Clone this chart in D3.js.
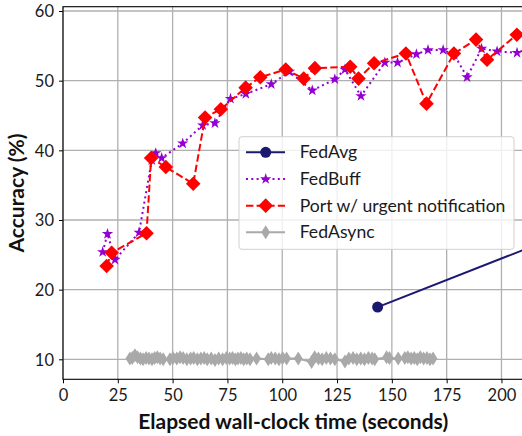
<!DOCTYPE html>
<html>
<head>
<meta charset="utf-8">
<script src="https://cdn.jsdelivr.net/npm/d3@7"></script>
<style>
  body { margin: 0; background: #fff; }
  svg { display: block; font-family: Lato, "Noto Sans", sans-serif; }
</style>
</head>
<body>
<svg id="chart" width="522" height="436"></svg>
<script>
// series values (time in seconds, accuracy in %)
const fedAvgTime = [143.5, 287];
const fedAvgAcc = [17.5, 35.2];

const fedBuffTime = [18.1, 20.3, 23.7, 34.7, 40.5, 42.3, 45.0, 54.6, 63.7, 69.3, 76.4, 83.4, 95.0, 103.3,
  113.7, 124.0, 128.6, 135.9, 146.8, 152.6, 161.2, 166.5, 173.4, 178.5, 184.3, 190.9, 198.0, 207.1, 216.0];
const fedBuffAcc = [25.4, 28.0, 24.3, 28.2, 38.6, 39.6, 38.9, 41.0, 43.6, 43.9, 47.4, 48.1, 49.5, 51.3,
  48.6, 50.2, 51.6, 47.8, 52.6, 52.6, 53.8, 54.4, 54.4, 53.7, 50.5, 54.6, 54.2, 54.0, 55.0];

const portTime = [19.9, 22.2, 38.1, 40.2, 46.9, 59.4, 64.8, 72.0, 83.3, 90.0, 101.6, 109.8, 114.9, 131.0,
  134.8, 141.9, 156.4, 165.8, 178.3, 188.4, 193.4, 207.0, 216.0];
const portAcc = [23.4, 25.3, 28.1, 38.9, 37.6, 35.2, 44.7, 45.9, 49.0, 50.5, 51.6, 50.3, 51.8, 52.0,
  50.3, 52.5, 53.9, 46.7, 53.9, 55.9, 53.0, 56.6, 57.2];

const fedAsyncTime = [30.5, 31.6, 32.8, 34.0, 35.3, 36.5, 37.9, 39.2, 40.6, 41.8, 43.0, 44.3, 45.7,
  48.8, 50.2, 51.9, 53.4, 54.8, 56.5, 58.2, 59.6, 61.3, 62.9, 64.4, 65.8, 67.6, 69.3, 71.0, 72.8,
  74.5, 76.0, 77.3, 78.6, 79.8, 81.1, 82.4, 83.8, 85.3, 88.3, 93.6, 95.0, 96.8, 98.5, 100.2, 102.0,
  107.3, 113.4, 114.8, 116.5, 118.2, 120.1, 122.0, 124.0, 128.6, 130.4, 132.3, 134.0, 135.8, 137.5,
  139.3, 141.0, 142.2, 147.6, 148.9, 152.9, 155.9, 157.3, 158.8, 160.2, 161.6, 163.0, 164.5, 166.0,
  167.4, 168.8];
const fedAsyncAcc = [10.1, 10.2, 10.6, 10.3, 10.1, 10.0, 10.2, 10.1, 10.0, 10.2, 10.3, 10.1, 10.0,
  10.0, 10.2, 10.1, 10.3, 10.2, 10.0, 10.1, 10.2, 10.0, 10.1, 10.2, 10.0, 10.1, 9.9, 10.1, 10.0,
  10.2, 10.1, 10.2, 10.0, 10.1, 10.2, 10.0, 10.1, 10.0, 10.1, 10.0, 10.2, 10.1, 10.0, 10.2, 10.1,
  10.1, 9.6, 10.3, 10.1, 10.0, 10.2, 10.1, 10.0, 9.7, 10.1, 10.2, 10.0, 10.1, 10.0,
  10.2, 10.1, 10.0, 10.3, 10.2, 10.1, 10.2, 10.3, 10.1, 10.2, 10.0, 10.3, 10.1, 10.2,
  10.0, 10.1];

const xTicks = [0, 25, 50, 75, 100, 125, 150, 175, 200];
const yTicks = [10, 20, 30, 40, 50, 60];
const seriesNames = ['FedAvg', 'FedBuff', 'Port w/ urgent notification', 'FedAsync'];

const svg = d3.select('#chart');

const x = d3.scaleLinear().domain([0, 210]).range([63, 523.4]);
const y = d3.scaleLinear().domain([7.13, 60.62]).range([379.3, 6.7]);

const zip = (xs, ys) => xs.map((t, i) => [t, ys[i]]);

const diamond = 'M0,-7.3L7.3,0L0,7.3L-7.3,0Z';
const thinDiamond = 'M0,-7L4.4,0L0,7L-4.4,0Z';
const star = d3.symbol().type(d3.symbolStar).size(40)();
const circle = d3.symbol().type(d3.symbolCircle).size(95)();

const series = [
  { name: seriesNames[0], data: zip(fedAvgTime, fedAvgAcc), color: '#191970', dash: null, marker: circle },
  { name: seriesNames[1], data: zip(fedBuffTime, fedBuffAcc), color: '#9400d3', dash: '2,3.3', marker: star },
  { name: seriesNames[2], data: zip(portTime, portAcc), color: '#ff0000', dash: '7.4,3.2', marker: diamond },
  { name: seriesNames[3], data: zip(fedAsyncTime, fedAsyncAcc), color: '#a9a9a9', dash: null, marker: thinDiamond }
];

svg.append('defs').append('clipPath').attr('id', 'plot-clip')
  .append('rect')
  .attr('x', x.range()[0]).attr('y', y.range()[1])
  .attr('width', x.range()[1] - x.range()[0])
  .attr('height', y.range()[0] - y.range()[1]);

// grid
const grid = svg.append('g').attr('stroke', '#b0b0b0').attr('stroke-width', 1.3);
grid.selectAll('.gx').data(xTicks).join('line')
  .attr('x1', d => x(d)).attr('x2', d => x(d))
  .attr('y1', y.range()[0]).attr('y2', y.range()[1]);
grid.selectAll('.gy').data(yTicks).join('line')
  .attr('x1', x.range()[0]).attr('x2', x.range()[1])
  .attr('y1', d => y(d)).attr('y2', d => y(d));

// series
const plot = svg.append('g').attr('clip-path', 'url(#plot-clip)');
const line = d3.line().x(d => x(d[0])).y(d => y(d[1]));

series.forEach(s => {
  const g = plot.append('g');
  g.append('path')
    .datum(s.data)
    .attr('d', line)
    .attr('fill', 'none')
    .attr('stroke', s.color)
    .attr('stroke-width', 2)
    .attr('stroke-dasharray', s.dash);
  g.selectAll('.m').data(s.data).join('path')
    .attr('d', s.marker)
    .attr('transform', d => `translate(${x(d[0])},${y(d[1])})`)
    .attr('fill', s.color);
});

// axes
const xAxis = svg.append('g')
  .attr('transform', `translate(0,${y.range()[0]})`)
  .call(d3.axisBottom(x).tickValues(xTicks).tickSize(4).tickPadding(6).tickSizeOuter(0));
const yAxis = svg.append('g')
  .attr('transform', `translate(${x.range()[0]},0)`)
  .call(d3.axisLeft(y).tickValues(yTicks).tickSize(4).tickPadding(5).tickSizeOuter(0));

[xAxis, yAxis].forEach(a => {
  a.select('.domain').remove();
  a.selectAll('.tick line').attr('stroke', '#000').attr('stroke-width', 1);
  a.selectAll('.tick text')
    .attr('fill', '#1a1a1a')
    .style('font-size', '16.5px')
    .style('font-family', 'Lato, "Noto Sans", sans-serif');
});
yAxis.selectAll('.tick text').attr('dy', '0.36em');

// spines
svg.append('rect')
  .attr('x', x.range()[0]).attr('y', y.range()[1])
  .attr('width', x.range()[1] - x.range()[0])
  .attr('height', y.range()[0] - y.range()[1])
  .attr('fill', 'none').attr('stroke', '#000').attr('stroke-width', 1.1);

// axis titles
svg.append('text')
  .attr('x', (x.range()[0] + x.range()[1]) / 2)
  .attr('y', 429)
  .attr('text-anchor', 'middle')
  .attr('font-weight', 'bold')
  .attr('font-size', 21)
  .attr('fill', '#111')
  .text('Elapsed wall-clock time (seconds)');

svg.append('text')
  .attr('transform', `translate(24,${(y.range()[0] + y.range()[1]) / 2}) rotate(-90)`)
  .attr('text-anchor', 'middle')
  .attr('font-weight', 'bold')
  .attr('font-size', 21)
  .attr('fill', '#111')
  .text('Accuracy (%)');

// legend
const legend = svg.append('g');
legend.append('rect')
  .attr('x', 239).attr('y', 136.7)
  .attr('width', 275).attr('height', 112.6)
  .attr('rx', 3)
  .attr('fill', '#fff').attr('fill-opacity', 0.8)
  .attr('stroke', '#d0d0d0').attr('stroke-width', 1);

series.forEach((s, i) => {
  const row = legend.append('g').attr('transform', `translate(0,${152.3 + i * 26.67})`);
  row.append('line')
    .attr('x1', 246).attr('x2', 285)
    .attr('stroke', s.color).attr('stroke-width', 2)
    .attr('stroke-dasharray', s.dash);
  row.append('path')
    .attr('d', s.marker)
    .attr('transform', 'translate(265.7,0)')
    .attr('fill', s.color);
  row.append('text')
    .attr('x', 299.7)
    .attr('dy', '0.35em')
    .attr('font-size', 17.6)
    .attr('fill', '#1a1a1a')
    .text(s.name);
});
</script>
</body>
</html>
